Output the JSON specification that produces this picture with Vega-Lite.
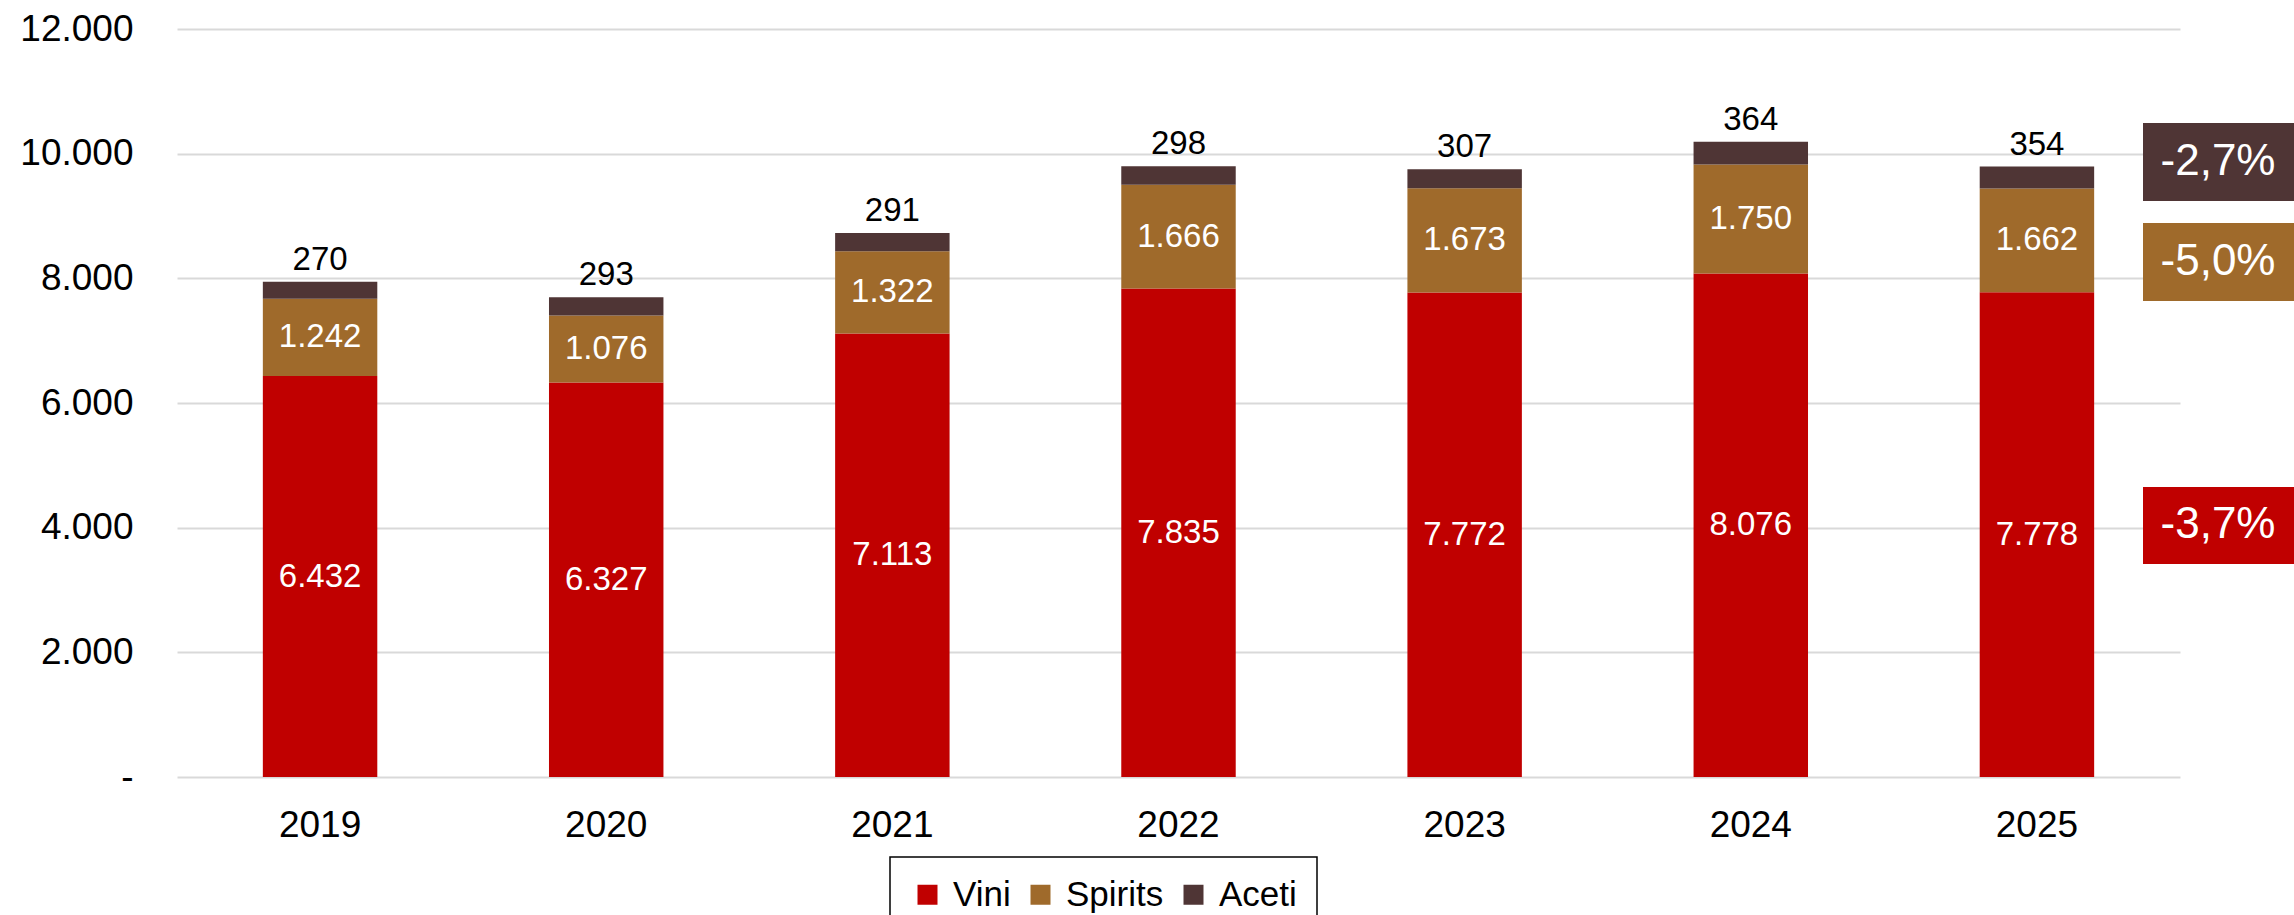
{
  "$schema": "https://vega.github.io/schema/vega-lite/v6.json",
  "width": 2003,
  "height": 748,
  "autosize": {"type": "none"},
  "padding": {"left": 177, "top": 29, "right": 114, "bottom": 138},
  "background": "white",
  "config": {
    "view": {"stroke": null},
    "font": "Liberation Sans",
    "locale": {"number": {"decimal": ",", "thousands": ".", "grouping": [3], "currency": ["", " €"]}}
  },
  "datasets": {
    "main": [
      {"year": "2019", "series": "Vini", "value": 6432},
      {"year": "2019", "series": "Spirits", "value": 1242},
      {"year": "2019", "series": "Aceti", "value": 270},
      {"year": "2020", "series": "Vini", "value": 6327},
      {"year": "2020", "series": "Spirits", "value": 1076},
      {"year": "2020", "series": "Aceti", "value": 293},
      {"year": "2021", "series": "Vini", "value": 7113},
      {"year": "2021", "series": "Spirits", "value": 1322},
      {"year": "2021", "series": "Aceti", "value": 291},
      {"year": "2022", "series": "Vini", "value": 7835},
      {"year": "2022", "series": "Spirits", "value": 1666},
      {"year": "2022", "series": "Aceti", "value": 298},
      {"year": "2023", "series": "Vini", "value": 7772},
      {"year": "2023", "series": "Spirits", "value": 1673},
      {"year": "2023", "series": "Aceti", "value": 307},
      {"year": "2024", "series": "Vini", "value": 8076},
      {"year": "2024", "series": "Spirits", "value": 1750},
      {"year": "2024", "series": "Aceti", "value": 364},
      {"year": "2025", "series": "Vini", "value": 7778},
      {"year": "2025", "series": "Spirits", "value": 1662},
      {"year": "2025", "series": "Aceti", "value": 354}
    ],
    "changes": [
      {"series": "Aceti", "label": "-2,7%", "hi": 10492, "lo": 9241},
      {"series": "Spirits", "label": "-5,0%", "hi": 8888, "lo": 7637},
      {"series": "Vini", "label": "-3,7%", "hi": 4653, "lo": 3417}
    ]
  },
  "layer": [
    {
      "data": {"name": "main"},
      "transform": [
        {"calculate": "indexof(['Vini','Spirits','Aceti'], datum.series)", "as": "ord"},
        {"stack": "value", "groupby": ["year"], "sort": [{"field": "ord", "order": "ascending"}], "as": ["y0", "y1"]},
        {"calculate": "(datum.y0 + datum.y1) / 2", "as": "mid"}
      ],
      "layer": [
        {
          "mark": {"type": "bar"},
          "encoding": {
            "x": {
              "field": "year", "type": "nominal",
              "scale": {"paddingInner": 0.6, "paddingOuter": 0.3},
              "axis": {"title": null, "labelAngle": 0, "ticks": false, "domain": false, "labelFontSize": 37, "labelColor": "black", "labelPadding": 30}
            },
            "y": {
              "field": "y1", "type": "quantitative",
              "scale": {"domain": [0, 12000], "nice": false},
              "axis": {"title": null, "values": [0, 2000, 4000, 6000, 8000, 10000, 12000], "format": ",.0f", "labelExpr": "datum.value === 0 ? '-' : datum.label", "ticks": false, "domain": false, "gridColor": "#D9D9D9", "gridWidth": 2, "labelFontSize": 37, "labelColor": "black", "labelPadding": 44}
            },
            "y2": {"field": "y0"},
            "color": {
              "field": "series", "type": "nominal",
              "scale": {"domain": ["Vini", "Spirits", "Aceti"], "range": ["#C00000", "#9F6A2B", "#4F3535"]},
              "legend": {
                "title": null, "orient": "none", "direction": "horizontal", "legendX": 713, "legendY": 828,
                "symbolType": "square", "symbolSize": 400, "symbolStrokeWidth": 0, "labelFontSize": 35, "labelColor": "black",
                "labelOffset": 8, "columnPadding": 12, "padding": 20, "strokeColor": "black", "fillColor": "white",
                "encode": {"legend": {"update": {"strokeWidth": {"value": 1.5}}}}
              }
            }
          }
        },
        {
          "transform": [{"filter": "datum.series !== 'Aceti'"}],
          "mark": {"type": "text", "color": "white", "fontSize": 33, "baseline": "middle", "align": "center"},
          "encoding": {
            "x": {"field": "year", "type": "nominal"},
            "y": {"field": "mid", "type": "quantitative"},
            "text": {"field": "value", "type": "quantitative", "format": ",.0f"}
          }
        },
        {
          "transform": [{"filter": "datum.series === 'Aceti'"}],
          "mark": {"type": "text", "color": "black", "fontSize": 33, "baseline": "alphabetic", "align": "center", "dy": -12},
          "encoding": {
            "x": {"field": "year", "type": "nominal"},
            "y": {"field": "y1", "type": "quantitative"},
            "text": {"field": "value", "type": "quantitative", "format": ",.0f"}
          }
        }
      ]
    },
    {
      "data": {"name": "changes"},
      "layer": [
        {
          "mark": {"type": "rect", "x": {"expr": "width - 37"}, "x2": {"expr": "width + 114"}},
          "encoding": {
            "y": {"field": "hi", "type": "quantitative"},
            "y2": {"field": "lo"},
            "color": {"field": "series", "type": "nominal", "legend": null}
          }
        },
        {
          "mark": {"type": "text", "color": "white", "fontSize": 44, "align": "center", "baseline": "middle", "x": {"expr": "width + 38"}},
          "encoding": {
            "y": {"field": "mid", "type": "quantitative"},
            "text": {"field": "label"}
          },
          "transform": [{"calculate": "(datum.hi + datum.lo) / 2", "as": "mid"}]
        }
      ]
    }
  ]
}
